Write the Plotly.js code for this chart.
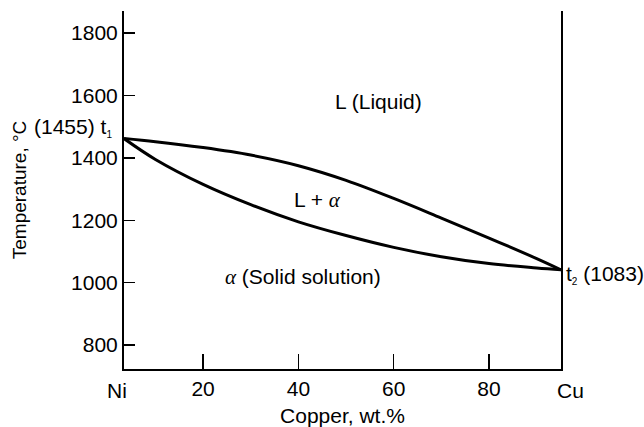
<!DOCTYPE html>
<html>
<head>
<meta charset="utf-8">
<script src="https://cdn.plot.ly/plotly-3.0.1.min.js"></script>
<style>
  html, body { margin: 0; padding: 0; background: #fff; }
  #chart { width: 644px; height: 427px; }
</style>
</head>
<body>
<div id="chart"></div>
<script>
// Composition (wt.% Cu, in the drawing's tick scale) and temperatures (°C)
const compX = [3.4, 10, 20, 30, 40, 50, 60, 70, 80, 90, 95.1];
const liquidusT = [1462, 1452, 1433, 1409, 1375, 1328, 1270, 1207, 1143, 1077, 1041];
const solidusT  = [1462, 1395, 1315, 1250, 1195, 1151, 1113, 1083, 1061, 1047, 1041];

const xTickVals = [20, 40, 60, 80];
const xTickText = ["20", "40", "60", "80"];
const endLabelText = ["Ni", "Cu"];
const yTickVals = [800, 1000, 1200, 1400, 1600, 1800];
const yTickText = ["800", "1000", "1200", "1400", "1600", "1800"];

const xRange = [3.4, 95.1];
const yRange = [723, 1871];

const FONT = "Liberation Sans, Arial, Helvetica, sans-serif";
const FS = 21;
const alpha = '<i><span style="font-family:Liberation Serif, Times New Roman, serif">α</span></i>';
const sub = s => '<sub><span style="font-size:10px">' + s + '</span></sub>';

const traces = [
  { x: compX, y: liquidusT, mode: "lines", line: { color: "#000", width: 3, shape: "spline", smoothing: 1 }, hoverinfo: "skip" },
  { x: compX, y: solidusT,  mode: "lines", line: { color: "#000", width: 3, shape: "spline", smoothing: 1 }, hoverinfo: "skip" }
];

const layout = {
  width: 644, height: 427,
  margin: { l: 124, r: 83, t: 11, b: 58 },
  paper_bgcolor: "#fff", plot_bgcolor: "#fff",
  showlegend: false,
  font: { family: FONT, size: FS, color: "#000" },
  xaxis: {
    range: xRange, tickmode: "array", tickvals: xTickVals, ticktext: xTickText,
    ticks: "inside", ticklen: 15, tickwidth: 1.5, tickcolor: "#000",
    showline: true, linecolor: "#000", linewidth: 2, mirror: false,
    showgrid: false, zeroline: false,
    tickfont: { family: FONT, size: FS },
    title: { text: "Copper, wt.%", font: { family: FONT, size: FS }, standoff: 12 }
  },
  yaxis: {
    range: yRange, tickmode: "array", tickvals: yTickVals, ticktext: yTickText,
    ticks: "inside", ticklen: 11, tickwidth: 1.5, tickcolor: "#000",
    showline: true, linecolor: "#000", linewidth: 2, mirror: true,
    showgrid: false, zeroline: false,
    tickfont: { family: FONT, size: FS },
    title: { text: "Temperature, °C", font: { family: FONT, size: 19 }, standoff: 39 }
  },
  annotations: [
    { x: 0, y: 0, xref: "paper", yref: "paper", xanchor: "center", yanchor: "middle", xshift: -7, yshift: -21, text: endLabelText[0], showarrow: false, font: { family: FONT, size: FS } },
    { x: 1, y: 0, xref: "paper", yref: "paper", xanchor: "center", yanchor: "middle", xshift: 9, yshift: -21, text: endLabelText[1], showarrow: false, font: { family: FONT, size: FS } },
    { x: 56.7, y: 1581, xref: "x", yref: "y", text: "L (Liquid)", showarrow: false, font: { family: FONT, size: FS } },
    { x: 44.1, y: 1266, xref: "x", yref: "y", text: "L + " + alpha, showarrow: false, font: { family: FONT, size: FS } },
    { x: 40.9, y: 1019, xref: "x", yref: "y", text: alpha + " (Solid solution)", showarrow: false, font: { family: FONT, size: FS } },
    { x: 0, y: 1498, xref: "paper", yref: "y", xanchor: "right", xshift: -10, text: "(1455) t" + sub("1"), showarrow: false, font: { family: FONT, size: FS } },
    { x: 1, y: 1025, xref: "paper", yref: "y", xanchor: "left", xshift: 3, text: "t" + sub("2") + " (1083)", showarrow: false, font: { family: FONT, size: FS } }
  ]
};

Plotly.newPlot("chart", traces, layout, { staticPlot: true, displayModeBar: false });
</script>
</body>
</html>
